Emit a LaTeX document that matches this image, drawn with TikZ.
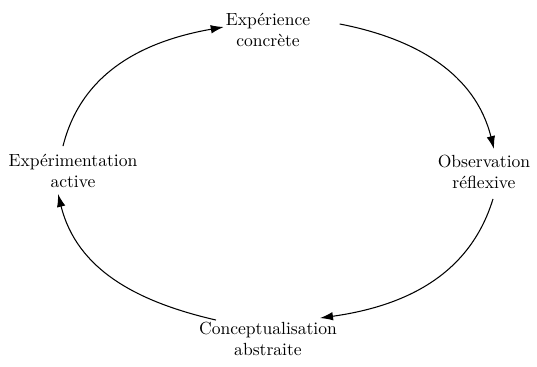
\documentclass[tikz,border=0pt]{standalone}
\usetikzlibrary{arrows.meta}
\tikzset{
  fase/.style={align=center, inner sep=1pt, font=\normalsize},
  ciclo/.style={-{Latex[length=2.6mm,width=1.7mm]}, line width=0.6pt},
}
\begin{document}
\begin{tikzpicture}
    \useasboundingbox (0,0) rectangle (10.74,7.34);
    % fasi del ciclo
    \node[fase] (esp) at (5.36,6.74) {Expérience\\concrète};
    \node[fase] (oss) at (9.68,3.90) {Observation\\réflexive};
    \node[fase] (conc) at (5.36,0.56) {Conceptualisation\\abstraite};
    \node[fase] (sper) at (1.46,3.92) {Expérimentation\\active};
    % frecce
    \draw[ciclo] ([xshift=-2mm,yshift=1.2mm]sper.north) to[out=76,in=190] ([yshift=0.6mm]esp.west);
    \draw[ciclo] ([xshift=5.5mm,yshift=1.2mm]esp.east) to[out=-11,in=104] ([xshift=2mm,yshift=0.8mm]oss.north);
    \draw[ciclo] ([xshift=1.8mm,yshift=-1.6mm]oss.south) to[out=-107,in=8] ([xshift=-3.8mm,yshift=0.4mm]conc.north east);
    \draw[ciclo] ([xshift=3.8mm]conc.north west) to[out=167,in=284] ([xshift=-3mm,yshift=-0.8mm]sper.south);
\end{tikzpicture}
\end{document}
